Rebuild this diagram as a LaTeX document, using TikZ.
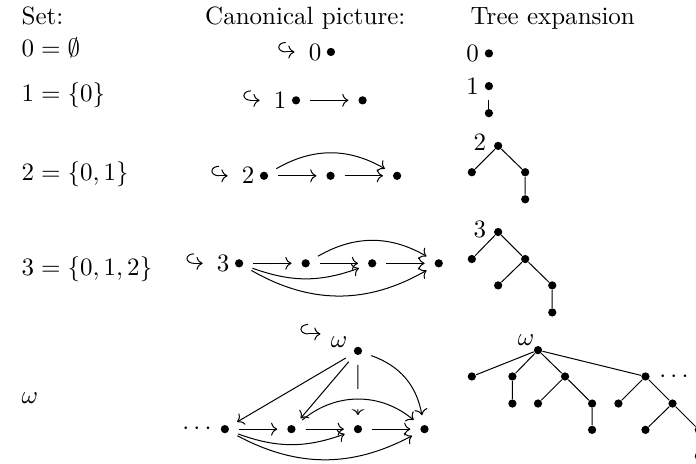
\documentclass[tikz,border=0pt]{standalone}
\usetikzlibrary{arrows.meta,positioning}
\begin{document}
\begin{tikzpicture}[node distance=0.935cm]
\tikzstyle{cdot}=[circle,fill,inner sep=0pt,minimum size=3.3pt,outer sep=4pt]
\tikzstyle{tdot}=[circle,fill,inner sep=0pt,minimum size=3.3pt]
\tikzstyle{lbl}=[inner sep=1pt]
\tikzstyle{arr}=[-{Computer Modern Rightarrow}]
\tikzstyle{hk}=[{Hooks[right,length=3pt,width=8pt]}-{Computer Modern Rightarrow},shorten >=4.5pt]
\useasboundingbox (0,0) rectangle (9.78,-6.51);
% headings
\node[anchor=base west] (hs) at (0.18,-0.34) {Set:};
\node[anchor=base] (hc) at (4.29,-0.34) {Canonical picture:};
\node[anchor=base west] (ht) at (6.49,-0.34) {Tree expansion};
% sets
\node[anchor=base west] (s0) at (0.18,-0.79) {$0=\emptyset$};
\node[anchor=base west] (s1) at (0.18,-1.43) {$1=\{0\}$};
\node[anchor=base west] (s2) at (0.18,-2.53) {$2=\{0,1\}$};
\node[anchor=base west] (s3) at (0.18,-3.87) {$3=\{0,1,2\}$};
\node[anchor=base west] (sw) at (0.18,-5.67) {$\omega$};
% canonical pictures
\node[cdot] (c0) at (4.65,-0.73) {};
\node[lbl,left=-3pt of c0] (l0) {$0$};
\coordinate (h0) at ([xshift=-11pt]l0.west);
\draw[hk] (h0) -- (l0);
\node[cdot] (c1a) at (4.16,-1.41) {};
\node[cdot,right of=c1a] (c1b) {};
\node[lbl,left=-3pt of c1a] (l1) {$1$};
\coordinate (h1) at ([xshift=-11pt]l1.west);
\draw[hk] (h1) -- (l1);
\draw[arr] (c1a) -- (c1b);
\node[cdot] (c2a) at (3.71,-2.47) {};
\node[cdot,right of=c2a] (c2b) {};
\node[cdot,right of=c2b] (c2c) {};
\node[lbl,left=-3pt of c2a] (l2) {$2$};
\coordinate (h2) at ([xshift=-11pt]l2.west);
\draw[hk] (h2) -- (l2);
\draw[arr] (c2a) -- (c2b);
\draw[arr] (c2b) -- (c2c);
\draw[arr] (c2a) to[bend left=30] (c2c);
\node[cdot] (c3a) at (3.36,-3.70) {};
\node[cdot,right of=c3a] (c3b) {};
\node[cdot,right of=c3b] (c3c) {};
\node[cdot,right of=c3c] (c3d) {};
\node[lbl,left=-3pt of c3a] (l3) {$3$};
\coordinate (h3) at ([xshift=-11pt]l3.west);
\draw[hk] (h3) -- (l3);
\draw[arr] (c3a) -- (c3b);
\draw[arr] (c3b) -- (c3c);
\draw[arr] (c3c) -- (c3d);
\draw[arr] (c3a) to[bend right=20] (c3c);
\draw[arr] (c3a) to[bend right=30] (c3d);
\draw[arr] (c3b) to[bend left=30] (c3d);
% omega
\node[cdot] (cw) at (5.03,-4.93) {};
\node[lbl,anchor=base east] (lw) at ([xshift=-3pt,yshift=1.2pt]cw.center) {$\omega$};
\coordinate (hw) at ([xshift=-11pt,yshift=3.4pt]lw.west);
\draw[hk,shorten >=3pt] (hw) -- (hw -| lw.west);
\node[cdot] (w3) at (3.16,-6.03) {};
\node[cdot,right of=w3] (w2) {};
\node[cdot,right of=w2] (w1) {};
\node[cdot,right of=w1] (w0) {};
\node[lbl,left=-1.5pt of w3] (wd) {$\cdots$};
\draw[arr] (cw) -- (w1);
\draw[arr,preaction={draw,white,line width=8pt,-}] (w2) to[bend left=40] (w0);
\draw[arr] (cw) -- (w3);
\draw[arr] (cw) -- (w2);
\draw[arr] (cw) to[bend left=30] (w0);
\draw[arr] (w3) -- (w2);
\draw[arr] (w2) -- (w1);
\draw[arr] (w1) -- (w0);
\draw[arr] (w3) to[bend right=20] (w1);
\draw[arr] (w3) to[bend right=28] (w0);
% tree expansions
\node[tdot] (t0) at (6.87,-0.75) {};
\node[lbl,left=1pt of t0] (t0l) {$0$};
\node[tdot] (t1) at (6.87,-1.21) {};
\node[tdot] (t1a) at (6.87,-1.59) {};
\node[lbl,left=1pt of t1] (t1l) {$1$};
\draw[shorten <=3.5pt] (t1) -- (t1a);
\node[tdot] (t2) at (7.00,-2.05) {};
\node[tdot] (t2a) at (6.63,-2.42) {};
\node[tdot] (t2b) at (7.38,-2.42) {};
\node[tdot] (t2c) at (7.38,-2.80) {};
\node[lbl,left=1.8pt of t2,yshift=1.2pt] (t2l) {$2$};
\draw (t2) -- (t2a) (t2) -- (t2b) -- (t2c);
\node[tdot] (t3) at (7.00,-3.26) {};
\node[tdot] (t3a) at (6.63,-3.64) {};
\node[tdot] (t3b) at (7.38,-3.64) {};
\node[tdot] (t3c) at (7.00,-4.01) {};
\node[tdot] (t3d) at (7.76,-4.01) {};
\node[tdot] (t3e) at (7.76,-4.39) {};
\node[lbl,left=1.8pt of t3,yshift=1.2pt] (t3l) {$3$};
\draw (t3) -- (t3a) (t3) -- (t3b) -- (t3c) (t3b) -- (t3d) -- (t3e);
\node[tdot] (tw) at (7.56,-4.92) {};
\node[lbl,above left=-0.5pt and -1pt of tw] (twl) {$\omega$};
\node[tdot] (tw1) at (6.63,-5.29) {};
\node[tdot] (tw2) at (7.20,-5.29) {};
\node[tdot] (tw3) at (7.94,-5.29) {};
\node[tdot] (tw4) at (9.07,-5.29) {};
\node[lbl,right=2.5pt of tw4] (twd) {$\cdots$};
\node[tdot] (tw2a) at (7.20,-5.67) {};
\node[tdot] (tw3a) at (7.56,-5.67) {};
\node[tdot] (tw3b) at (8.32,-5.67) {};
\node[tdot] (tw4a) at (8.69,-5.67) {};
\node[tdot] (tw4b) at (9.45,-5.67) {};
\node[tdot] (tw3c) at (8.32,-6.04) {};
\node[tdot] (tw4c) at (9.07,-6.04) {};
\node[tdot] (tw4d) at (9.82,-6.04) {};
\node[tdot] (tw4e) at (9.82,-6.41) {};
\draw (tw) -- (tw1) (tw) -- (tw2) (tw) -- (tw3) (tw) -- (tw4);
\draw (tw2) -- (tw2a) (tw3) -- (tw3a) (tw3) -- (tw3b) -- (tw3c);
\draw (tw4) -- (tw4a) (tw4) -- (tw4b) -- (tw4c) (tw4b) -- (tw4d) -- (tw4e);
\end{tikzpicture}
\end{document}
